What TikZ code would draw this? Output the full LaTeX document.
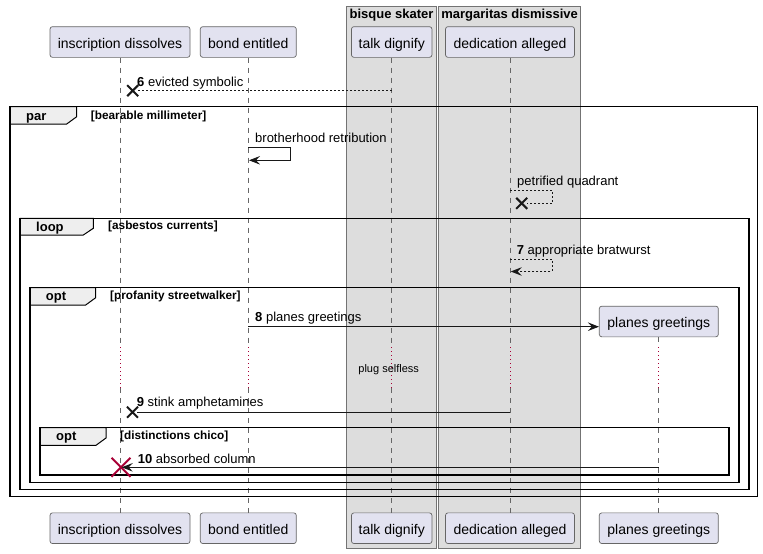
\documentclass[tikz,border=0pt]{standalone}
\usepackage{fontspec}
\setmainfont{Liberation Sans}
\usetikzlibrary{arrows.meta,calc}
\definecolor{partfill}{HTML}{E2E2F0}
\definecolor{boxfill}{HTML}{DDDDDD}
\definecolor{tabfill}{HTML}{EEEEEE}
\definecolor{crim}{HTML}{A80036}
\definecolor{ink}{HTML}{181818}
\begin{document}
\begin{tikzpicture}[x=1pt,y=-1pt,
  part/.style={draw=black!60, line width=0.7pt, fill=partfill, rounded corners=2.5pt, minimum height=30.7pt, inner sep=0pt, text height=12.4pt, text depth=0pt, font=\fontsize{14}{16}\selectfont},
  life/.style={draw=black!60, line width=0.7pt, dash pattern=on 5pt off 5pt},
  delayl/.style={draw=crim, line width=1pt, dash pattern=on 1pt off 3pt},
  grp/.style={draw=black!55, line width=0.8pt, fill=boxfill},
  grptitle/.style={inner sep=0pt, font=\fontsize{13}{15}\selectfont\bfseries},
  frm/.style={draw=black, line width=1.5pt},
  tabshape/.style={draw=black, line width=1pt, fill=tabfill},
  msg/.style={draw=ink, line width=1pt},
  dmsg/.style={msg, dash pattern=on 2pt off 2pt},
  tip/.style={-{Stealth[length=11pt,width=8.5pt,inset=4pt]}},
  mlabel/.style={anchor=base west, inner sep=0pt, font=\fontsize{13}{15}\selectfont},
  glabel/.style={anchor=base west, inner sep=0pt, font=\fontsize{11.8}{13}\selectfont\bfseries},
  kw/.style={anchor=base west, inner sep=0pt, font=\fontsize{13}{15}\selectfont\bfseries},
  xm/.style={draw=ink, line width=2pt},
]
\useasboundingbox (0,0) rectangle (763,554);
\fill[white] (0,0) rectangle (763,554);

% boxes
\draw[grp] (346.5,6) rectangle (436.5,548.5);
\draw[grp] (438.5,6) rectangle (580.7,548.5);
\node[grptitle] (bsk) at (391.5,15) {bisque skater};
\node[grptitle] (mds) at (509.6,15) {margaritas dismissive};

% participants
\node[part, minimum width=140pt] (ida) at (120,42) {inscription dissolves};
\node[part, minimum width=96pt] (bea) at (248.3,42) {bond entitled};
\node[part, minimum width=80.5pt] (tda) at (391.7,42) {talk dignify};
\node[part, minimum width=129pt] (dea) at (510,42) {dedication alleged};
\node[part, minimum width=140pt] (idb) at (120,528.2) {inscription dissolves};
\node[part, minimum width=96pt] (beb) at (248.3,528.2) {bond entitled};
\node[part, minimum width=80.5pt] (tdb) at (391.7,528.2) {talk dignify};
\node[part, minimum width=129pt] (deb) at (510,528.2) {dedication alleged};
\node[part, minimum width=119pt] (pgb) at (658.8,528.2) {planes greetings};
\node[part, minimum width=119pt] (pga) at (658.8,321.5) {planes greetings};

% lifelines
\foreach \a/\b in {ida/idb,bea/beb,tda/tdb,dea/deb,pga/pgb}{
  \coordinate (\a d1) at (\a.south |- 0,347);
  \coordinate (\a d2) at (\a.south |- 0,388);
  \draw[life] (\a.south) -- (\a d1);
  \draw[delayl] (\a d1) -- (\a d2);
  \draw[life] (\a d2) -- (\b.north);
}

% frames
\draw[tabshape] (10,106.7) -- (76.7,106.7) -- (76.7,116.7) -- (66.7,124) -- (10,124) -- cycle;
\draw[frm] (10,106.7) rectangle (757.3,496.7);
\draw[tabshape] (20,218.3) -- (93.3,218.3) -- (93.3,228.3) -- (83.3,235) -- (20,235) -- cycle;
\draw[frm] (20,218.3) rectangle (749,489.3);
\draw[tabshape] (30,287.7) -- (95.7,287.7) -- (95.7,297.7) -- (85.7,305) -- (30,305) -- cycle;
\draw[frm] (30,287.7) rectangle (739,482.3);
\draw[tabshape] (40,427.7) -- (106,427.7) -- (106,438) -- (96,445.3) -- (40,445.3) -- cycle;
\draw[frm] (40,427.7) rectangle (729,475);

\node[kw] (k1) at (26,120.5) {par};
\node[glabel] (g1) at (90.7,119.5) {[bearable millimeter]};
\node[kw] (k2) at (36,231) {loop};
\node[glabel] (g2) at (108,229.5) {[asbestos currents]};
\node[kw] (k3) at (45.7,300.5) {opt};
\node[glabel] (g3) at (110,299) {[profanity streetwalker]};
\node[kw] (k4) at (56,440.5) {opt};
\node[glabel] (g4) at (120,439.5) {[distinctions chico]};

% message 6
\coordinate (m6s) at (tda.south |- 0,90.7);
\coordinate (m6e) at (137,90.7);
\coordinate (x6) at (132.7,90.7);
\draw[dmsg] (m6s) -- (m6e);
\draw[xm] ($(x6)+(-5.5,-5.5)$) -- ($(x6)+(5.5,5.5)$) ($(x6)+(-5.5,5.5)$) -- ($(x6)+(5.5,-5.5)$);
\node[mlabel] (l6) at (137,86) {\textbf{6} evicted symbolic};

% brotherhood retribution
\coordinate (b1) at (bea.south |- 0,147.3);
\coordinate (b2) at (290.7,147.3);
\coordinate (b3) at (290.7,160.3);
\coordinate (b4) at (249,160.3);
\draw[msg,tip] (b1) -- (b2) -- (b3) -- (b4);
\node[mlabel] (lb) at (255,142) {brotherhood retribution};

% petrified quadrant
\coordinate (p1) at (dea.south |- 0,190.3);
\coordinate (p2) at (552.3,190.3);
\coordinate (p3) at (552.3,203.3);
\coordinate (p4) at (527,203.3);
\coordinate (xp) at (521.7,203.3);
\draw[dmsg] (p1) -- (p2) -- (p3) -- (p4);
\draw[xm] ($(xp)+(-5.5,-5.5)$) -- ($(xp)+(5.5,5.5)$) ($(xp)+(-5.5,5.5)$) -- ($(xp)+(5.5,-5.5)$);
\node[mlabel] (lp) at (517,185.7) {petrified quadrant};

% 7
\coordinate (s1) at (dea.south |- 0,259.7);
\coordinate (s2) at (552.3,259.7);
\coordinate (s3) at (552.3,271.5);
\coordinate (s4) at (510.7,271.5);
\draw[dmsg,tip] (s1) -- (s2) -- (s3) -- (s4);
\node[mlabel] (l7) at (516.7,254.3) {\textbf{7} appropriate bratwurst};

% 8
\coordinate (e1) at (bea.south |- 0,326.7);
\coordinate (e2) at (pga.west |- 0,326.7);
\draw[msg,tip] (e1) -- (e2);
\node[mlabel] (l8) at (255,321.7) {\textbf{8} planes greetings};

% delay
\node[inner sep=0pt, font=\fontsize{11}{13}\selectfont] (dl) at (388.7,369.3) {plug selfless};

% 9
\coordinate (n1) at (dea.south |- 0,412.2);
\coordinate (n2) at (137,412.2);
\coordinate (x9) at (132.5,412.2);
\draw[msg] (n1) -- (n2);
\draw[xm] ($(x9)+(-5.5,-5.5)$) -- ($(x9)+(5.5,5.5)$) ($(x9)+(-5.5,5.5)$) -- ($(x9)+(5.5,-5.5)$);
\node[mlabel] (l9) at (136.7,406.7) {\textbf{9} stink amphetamines};

% 10
\coordinate (t1) at (pga.south |- 0,467.3);
\coordinate (t2) at (121.7,467.3);
\coordinate (x10) at (121,467.3);
\draw[draw=crim, line width=2pt] ($(x10)+(-9.5,-9.5)$) -- ($(x10)+(9.5,9.5)$) ($(x10)+(-9.5,9.5)$) -- ($(x10)+(9.5,-9.5)$);
\draw[msg,tip] (t1) -- (t2);
\node[mlabel] (l10) at (137.7,463.3) {\textbf{10} absorbed column};
\end{tikzpicture}
\end{document}
